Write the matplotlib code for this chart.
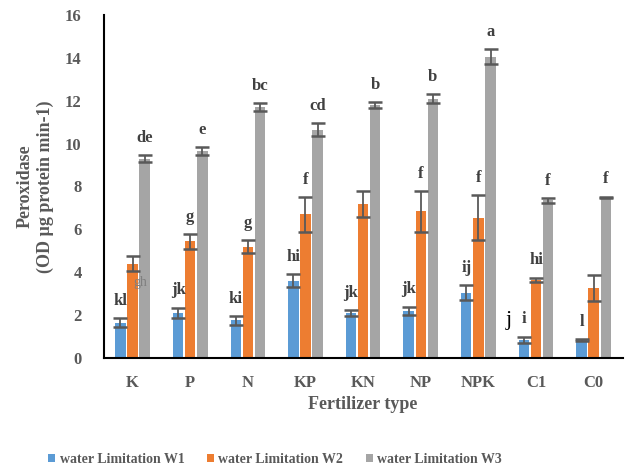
import numpy as np
import matplotlib.pyplot as plt

plt.rcParams['font.family'] = ['Liberation Serif', 'DejaVu Serif']

tipos = ['K', 'P', 'N', 'KP', 'KN', 'NP', 'NPK', 'C1', 'C0']
series = ['water Limitation W1', 'water Limitation W2', 'water Limitation W3']

w1 = [1.65, 2.1, 1.75, 3.6, 2.1, 2.2, 3.05, 0.85, 0.85]
w2 = [4.4, 5.45, 5.2, 6.7, 7.2, 6.85, 6.55, 3.65, 3.27]
w3 = [9.3, 9.65, 11.7, 10.65, 11.8, 12.1, 14.05, 7.35, 7.5]

e1 = [0.2, 0.25, 0.2, 0.3, 0.15, 0.2, 0.35, 0.15, 0.05]
e2 = [0.35, 0.35, 0.3, 0.8, 0.6, 0.95, 1.05, 0.1, 0.6]
e3 = [0.15, 0.2, 0.2, 0.3, 0.15, 0.2, 0.35, 0.12, 0.03]

letras1 = ['kl', 'jk', 'ki', 'hi', 'jk', 'jk', 'ij', 'i', 'l']
letras2 = ['', 'g', 'g', 'f', '', 'f', 'f', 'hi', '']
letras3 = ['de', 'e', 'bc', 'cd', 'b', 'b', 'a', 'f', 'f']

colores = ['#5b9bd5', '#ed7d31', '#a5a5a5']
gris = '#595959'

fig = plt.figure(figsize=(6.25, 4.68), dpi=100)
ax = fig.add_axes([0.166, 0.235, 0.83, 0.733])

x = np.arange(len(tipos))
ancho = 0.18
paso = 0.21

datos = [(w1, e1, letras1), (w2, e2, letras2), (w3, e3, letras3)]
for i, (vals, errs, letras) in enumerate(datos):
    pos = x + (i - 1) * paso
    ax.bar(pos, vals, ancho, color=colores[i], label=series[i], zorder=2)
    ax.errorbar(pos, vals, yerr=errs, fmt='none', ecolor='#595959',
                elinewidth=1.3, capsize=5, capthick=1.8, zorder=3)
    for p, v, e, t in zip(pos, vals, errs, letras):
        if t:
            ax.text(p, v + e + 0.8, t, ha='center', va='center',
                    fontsize=12, fontweight='bold', color='#404040')

# letras sueltas
ax.text(x[0] + 0.14, 3.5, 'gh', ha='center', va='center', fontsize=10,
        color='#7f7f7f', zorder=5)
ax.text(x[7] - 0.47, 1.75, 'j', ha='center', va='center', fontsize=16, color='black')

ax.set_xlim(-0.5, len(tipos) - 0.5)
ax.set_ylim(0, 16)
ax.set_yticks(np.arange(0, 17, 2))
ax.set_xticks(x)
ax.set_xticklabels(tipos)
for lab in ax.get_xticklabels() + ax.get_yticklabels():
    lab.set_fontweight('bold')
    lab.set_fontsize(12)
    lab.set_color(gris)
ax.tick_params(axis='both', length=0)
ax.tick_params(axis='y', pad=16)
ax.tick_params(axis='x', pad=12)

ax.spines['top'].set_visible(False)
ax.spines['right'].set_visible(False)
ax.spines['left'].set_linewidth(1.5)
ax.spines['bottom'].set_linewidth(1.5)

ax.set_xlabel('Fertilizer type', fontsize=13, fontweight='bold', color=gris, labelpad=4)
ax.set_ylabel('Peroxidase\n(OD µg protein min-1)', fontsize=13, fontweight='bold',
              color=gris, labelpad=8)

leg = ax.legend(loc='upper center', bbox_to_anchor=(0.33, -0.24), ncol=3, frameon=False,
                handlelength=0.55, handleheight=0.55, handletextpad=0.3, columnspacing=1.6,
                prop={'weight': 'bold', 'size': 10})
for t in leg.get_texts():
    t.set_color(gris)

fig.savefig('out.png', dpi=100)
